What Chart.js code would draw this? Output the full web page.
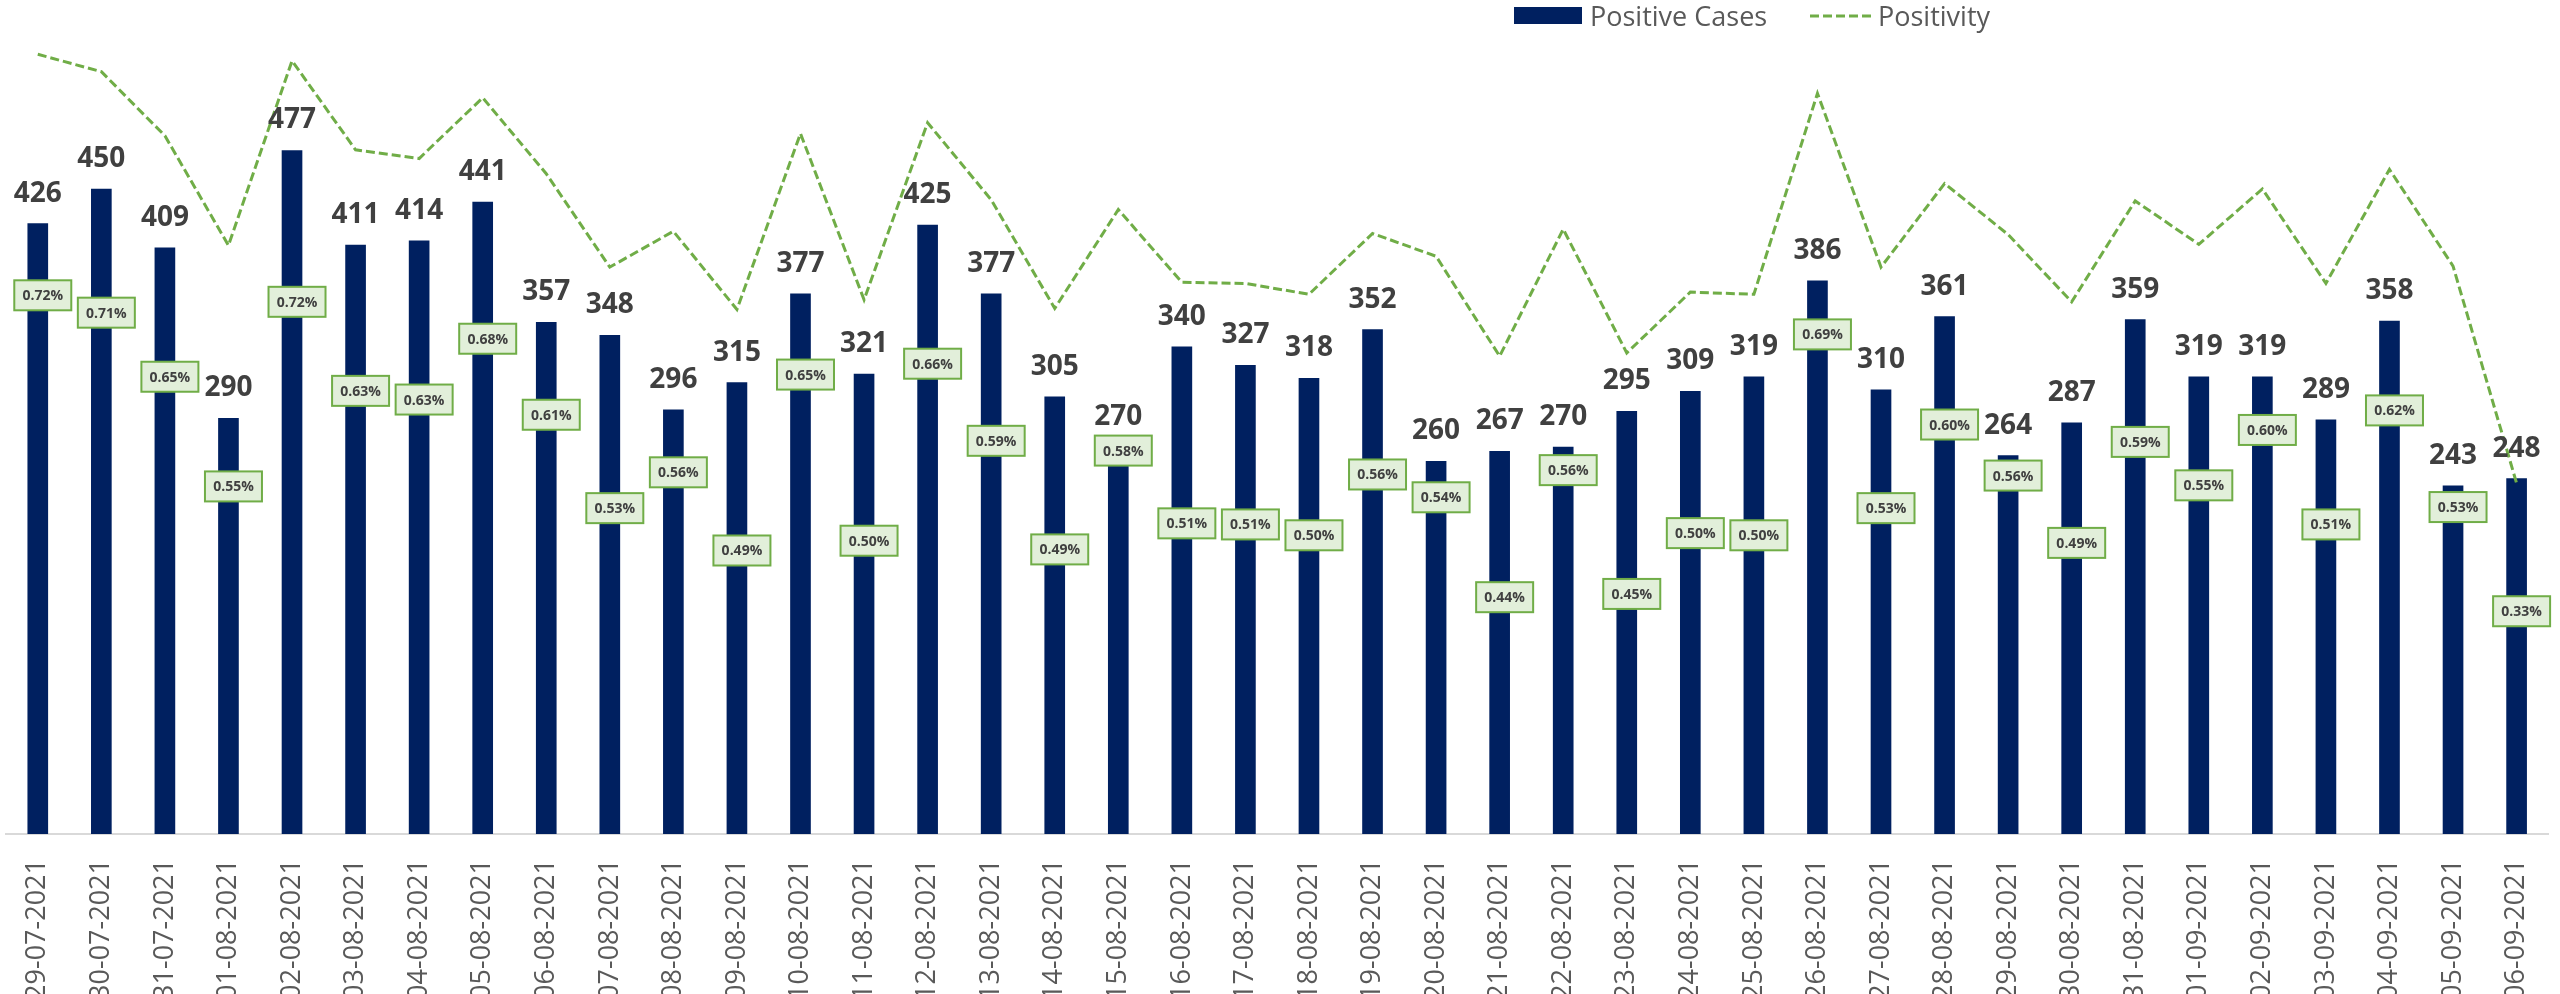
<!DOCTYPE html>
<html>
<head>
<meta charset="utf-8">
<script src="https://cdn.jsdelivr.net/npm/chart.js@4.4.0/dist/chart.umd.min.js"></script>
<style>
  html, body { margin: 0; padding: 0; background: #fff; overflow: hidden; }
  #wrap { position: relative; width: 2566px; height: 994px; }
</style>
</head>
<body>
<div id="wrap"><canvas id="casesChart"></canvas></div>
<script>
const dates = [
    '29-07-2021', '30-07-2021', '31-07-2021',
    '01-08-2021', '02-08-2021', '03-08-2021', '04-08-2021', '05-08-2021', '06-08-2021', '07-08-2021',
    '08-08-2021', '09-08-2021', '10-08-2021', '11-08-2021', '12-08-2021', '13-08-2021', '14-08-2021',
    '15-08-2021', '16-08-2021', '17-08-2021', '18-08-2021', '19-08-2021', '20-08-2021', '21-08-2021',
    '22-08-2021', '23-08-2021', '24-08-2021', '25-08-2021', '26-08-2021', '27-08-2021', '28-08-2021',
    '29-08-2021', '30-08-2021', '31-08-2021',
    '01-09-2021', '02-09-2021', '03-09-2021', '04-09-2021', '05-09-2021', '06-09-2021'
];

const cases = [426, 450, 409, 290, 477, 411, 414, 441, 357, 348, 296, 315, 377, 321, 425, 377, 305, 270, 340, 327,
    318, 352, 260, 267, 270, 295, 309, 319, 386, 310, 361, 264, 287, 359, 319, 319, 289, 358, 243, 248];

// positivity in %
const positivity = [0.722, 0.706, 0.647, 0.546, 0.716, 0.634, 0.626, 0.682, 0.612, 0.526, 0.559, 0.487, 0.649, 0.496,
    0.659, 0.588, 0.488, 0.579, 0.512, 0.511, 0.501, 0.557, 0.536, 0.444, 0.561, 0.447, 0.503, 0.501, 0.686, 0.526,
    0.603, 0.556, 0.494, 0.587, 0.547, 0.598, 0.511, 0.616, 0.527, 0.327];

const NAVY = '#002060';
const GREEN = '#70AD47';
const FONT = '"Open Sans", "DejaVu Sans", sans-serif';
const DASH = [9, 4];

// Legend drawn by hand so it can sit where the original one is
const topLegend = {
    id: 'topLegend',
    afterDraw(chart) {
        const ctx = chart.ctx;
        const sets = chart.data.datasets;
        ctx.save();
        ctx.font = '27px ' + FONT;
        ctx.textBaseline = 'alphabetic';
        ctx.textAlign = 'left';

        ctx.fillStyle = sets[0].backgroundColor;
        ctx.fillRect(1514, 7, 68, 17);
        ctx.fillStyle = '#595959';
        ctx.fillText(sets[0].label, 1590, 26);

        ctx.strokeStyle = sets[1].borderColor;
        ctx.lineWidth = 3;
        ctx.setLineDash(DASH);
        ctx.beginPath();
        ctx.moveTo(1810, 16);
        ctx.lineTo(1872, 16);
        ctx.stroke();
        ctx.setLineDash([]);
        ctx.fillText(sets[1].label, 1878, 26);
        ctx.restore();
    }
};

// Bar values on top, positivity values in little green boxes
const valueLabels = {
    id: 'valueLabels',
    afterDatasetsDraw(chart) {
        const ctx = chart.ctx;
        const bars = chart.getDatasetMeta(0).data;
        const pts = chart.getDatasetMeta(1).data;
        ctx.save();
        ctx.textAlign = 'center';
        ctx.textBaseline = 'alphabetic';
        ctx.font = 'bold 28px ' + FONT;
        ctx.fillStyle = '#404040';
        bars.forEach((b, i) => ctx.fillText(cases[i], b.x, b.y - 22));

        ctx.font = 'bold 14px ' + FONT;
        ctx.textBaseline = 'middle';
        pts.forEach((p, i) => {
            const drop = i === pts.length - 1 ? 128 : 241;
            const cx = p.x + 5;
            const cy = p.y + drop;
            ctx.fillStyle = '#E2EFDA';
            ctx.fillRect(cx - 28.5, cy - 15, 57, 30);
            ctx.strokeStyle = GREEN;
            ctx.lineWidth = 2;
            ctx.strokeRect(cx - 28.5, cy - 15, 57, 30);
            ctx.fillStyle = '#404040';
            ctx.fillText(positivity[i].toFixed(2) + '%', cx, cy + 1);
        });
        ctx.restore();
    }
};

const ctx = document.getElementById('casesChart').getContext('2d');
new Chart(ctx, {
    data: {
        labels: dates,
        datasets: [{
            type: 'bar',
            label: 'Positive Cases',
            data: cases,
            backgroundColor: NAVY,
            borderWidth: 0,
            barThickness: 20,
            yAxisID: 'y',
            order: 1
        }, {
            type: 'line',
            label: 'Positivity',
            data: positivity,
            borderColor: GREEN,
            backgroundColor: GREEN,
            borderWidth: 3,
            borderDash: DASH,
            pointRadius: 0,
            tension: 0,
            fill: false,
            yAxisID: 'y1',
            order: 0
        }]
    },
    options: {
        responsive: true,
        maintainAspectRatio: false,
        animation: false,
        devicePixelRatio: 1,
        layout: { padding: { left: 6, right: 0, top: 0, bottom: 0 } },
        scales: {
            x: {
                grid: { display: false },
                border: { display: true, color: '#D9D9D9', width: 2 },
                ticks: {
                    autoSkip: false,
                    minRotation: 90,
                    maxRotation: 90,
                    padding: 17,
                    color: '#595959',
                    font: { family: FONT, size: 27 }
                },
                afterFit: (scale) => { scale.height = 160; }
            },
            y: { display: false, min: 0, max: 582 },
            y1: { display: false, position: 'right', min: 0.004, max: 0.772 }
        },
        plugins: {
            legend: { display: false },
            tooltip: { enabled: false }
        }
    },
    plugins: [valueLabels, topLegend]
});
</script>
</body>
</html>
